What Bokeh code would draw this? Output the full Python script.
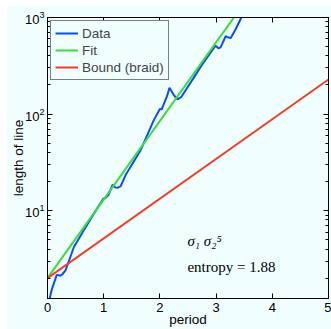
from bokeh.plotting import figure
from bokeh.models import (LogAxis, LinearAxis, Range1d, Label, FixedTicker,
                          LogTicker, CustomJSTickFormatter)
from bokeh.embed import file_html
from bokeh.resources import INLINE

# ---- data ----
data_t = [0.0, 0.08, 0.165, 0.20, 0.23, 0.26, 0.32, 0.47, 0.62, 0.82, 0.99,
          1.03, 1.08, 1.16, 1.20, 1.24, 1.30, 1.40, 1.655, 1.89, 2.00, 2.03,
          2.13, 2.17, 2.24, 2.31, 2.38, 2.60, 2.75, 2.99, 3.04, 3.08, 3.17,
          3.22, 3.26, 3.35, 3.45, 3.55]
data_L = [1.0, 1.55, 2.16, 2.14, 2.12, 2.18, 2.4, 4.2, 5.9, 9.2, 13.2,
          13.5, 14.4, 18.6, 17.4, 17.2, 17.8, 24.0, 42.0, 86.0, 113.0, 111.0,
          155.0, 187.0, 160.0, 142.0, 150.0, 237.0, 325.0, 510.0, 480.0, 490.0, 640.0,
          620.0, 615.0, 760.0, 1000.0, 1250.0]
fit_t = [0.0, 3.6]
fit_L = [2.0, 1700.0]
bound_t = [0.0, 5.0]
bound_L = [2.0, 228.0]
x_ticks = [0, 1, 2, 3, 4, 5]
braid_text = "σ₁ σ₂⁵"
entropy_text = "entropy = 1.88"

BG = "#f0fefe"
FONT = "Liberation Sans"

p = figure(width=325, height=324, y_axis_type="log",
           x_range=Range1d(0, 5), y_range=Range1d(1.23, 1000),
           output_backend="svg", toolbar_location=None,
           min_border_left=41, min_border_right=3, min_border_top=12,
           min_border_bottom=31, background_fill_color=BG,
           border_fill_color=BG, margin=(5, 0, 0, 6))
p.outline_line_color = "black"
p.grid.visible = False

p.line(data_t, data_L, line_color="#0a4cf5", line_width=2, legend_label="Data")
p.line(fit_t, fit_L, line_color="#3ddc3d", line_width=2, legend_label="Fit")
p.line(bound_t, bound_L, line_color="#f23c28", line_width=2, legend_label="Bound (braid)")

# axes
xa = p.xaxis[0]
xa.ticker = FixedTicker(ticks=x_ticks)
xa.axis_label = "period"
ya = p.yaxis[0]
ya.ticker = LogTicker(num_minor_ticks=10)
ya.axis_label = "length of line"
for ax in (xa, ya):
    ax.major_tick_in = 5
    ax.major_tick_out = 0
    ax.minor_tick_in = 3
    ax.minor_tick_out = 0
    ax.major_label_text_font = FONT
    ax.major_label_text_font_size = "13px"
    ax.major_label_text_color = "black"
    ax.axis_label_text_font = FONT
    ax.axis_label_text_font_size = "13.5px"
    ax.axis_label_text_font_style = "normal"
    ax.axis_label_text_color = "black"
    ax.axis_line_color = "black"
    ax.major_tick_line_color = "black"
    ax.minor_tick_line_color = "black"
xa.major_label_standoff = 4
xa.axis_label_standoff = -3
ya.major_label_standoff = 3
ya.axis_label_standoff = -4

empty = CustomJSTickFormatter(code="return ''")
top = LinearAxis(ticker=FixedTicker(ticks=x_ticks), formatter=empty,
                 major_tick_in=5, major_tick_out=0, major_label_standoff=0,
                 major_label_text_font_size="0px", axis_line_color="black")
right = LogAxis(ticker=LogTicker(num_minor_ticks=10), formatter=empty,
                major_tick_in=5, major_tick_out=0, minor_tick_in=3, minor_tick_out=0,
                major_label_standoff=0, major_label_text_font_size="0px",
                axis_line_color="black")
p.add_layout(top, "above")
p.add_layout(right, "right")

# legend
lg = p.legend[0]
lg.location = "top_left"
lg.margin = 3
lg.padding = 4
lg.spacing = 1
lg.glyph_width = 23
lg.glyph_height = 16
lg.label_height = 16
lg.label_standoff = 4
lg.label_text_font = FONT
lg.label_text_font_size = "13.5px"
lg.border_line_color = "black"
lg.border_line_width = 1
lg.background_fill_color = BG
lg.background_fill_alpha = 1

# annotations
p.add_layout(Label(x=2.49, y=4.9, text=braid_text, text_font="Liberation Serif",
                   text_font_size="15px", text_baseline="middle",
                   text_font_style="italic", text_color="black"))
p.add_layout(Label(x=2.49, y=2.6, text=entropy_text, text_font="Liberation Serif",
                   text_font_size="15px", text_baseline="middle", text_color="black"))

open("out.html", "w").write(file_html(p, INLINE))
